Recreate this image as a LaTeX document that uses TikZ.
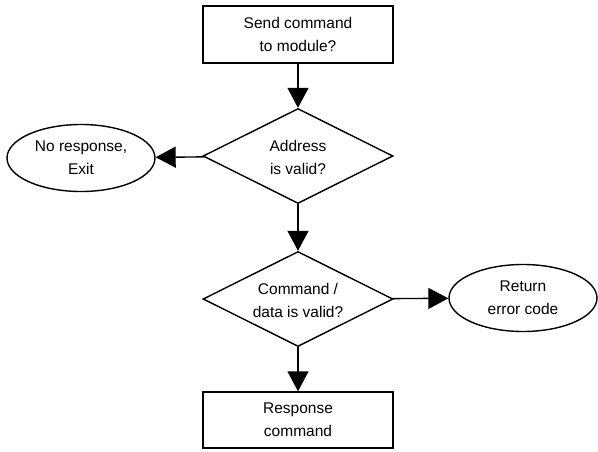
\documentclass[tikz,border=0pt]{standalone}
\usepackage{fontspec}
\setmainfont{Liberation Sans}
\usetikzlibrary{shapes.geometric,arrows.meta}
\begin{document}
\begin{tikzpicture}[x=1pt,y=-1pt,
  every node/.style={font=\fontsize{15.5}{23}\selectfont, align=center, line width=1.4pt, inner sep=0pt},
  procbox/.style={draw, rectangle, minimum width=190pt, minimum height=57pt},
  decide/.style={draw, diamond, minimum width=190pt, minimum height=95pt},
  term/.style={draw, ellipse, minimum width=148pt, minimum height=67pt},
  flow/.style={line width=1.4pt, -{Triangle[length=20pt,width=21pt]}}
]
\useasboundingbox[fill=white] (0,0) rectangle (598,451);
\node[procbox] (send) at (298,34.5) {Send command\\to module?};
\node[decide] (addr) at (298,156) {};
\node (addrtxt) at (298,157) {Address\\is valid?};
\node[term] (noresp) at (81,158) {No response,\\Exit};
\node[decide] (cmd) at (298,299) {};
\node (cmdtxt) at (298,300) {Command /\\data is valid?};
\node[term] (err) at (523,298) {Return\\error code};
\node[procbox, minimum height=56pt] (resp) at (298,420) {Response\\command};
\draw[flow] (send) -- (addr);
\draw[flow] (addr) -- (noresp);
\draw[flow] (addr) -- (cmd);
\draw[flow] (cmd) -- (err);
\draw[flow] (cmd) -- (resp);
\end{tikzpicture}
\end{document}
